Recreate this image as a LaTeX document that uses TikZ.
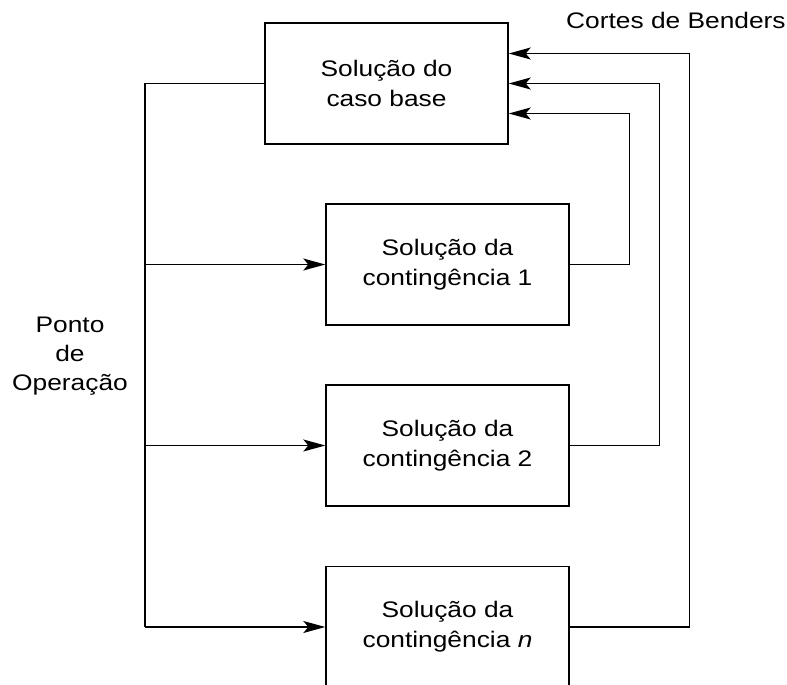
\documentclass[tikz,border=0pt]{standalone}
\usepackage{fontspec}
\setmainfont{Liberation Sans}[FakeStretch=1.17]
\usetikzlibrary{arrows.meta,calc}
\begin{document}
\begin{tikzpicture}[x=1pt,y=-1pt,
  box/.style={draw,line width=1.4pt,minimum width=243pt,minimum height=121pt,inner sep=0pt,align=center,font=\fontsize{22.5}{30}\selectfont},
  conn/.style={line width=1.4pt},
  arr/.style={line width=1.4pt,-{Stealth[length=22pt,width=12pt,inset=5pt]}},
  lbl/.style={font=\fontsize{22.5}{29}\selectfont,align=center,inner sep=0pt}]
\useasboundingbox (0,0) rectangle (787,685);
\node[box] (b1) at (386.5,83.5) {Solução do\\caso base};
\node[box] (b2) at (447.5,264.5) {Solução da\\contingência 1};
\node[box] (b3) at (447.5,445.5) {Solução da\\contingência 2};
\node[box] (b4) at (447.5,627) {Solução da\\contingência \textit{n}};
\coordinate (L) at (145,83.5);
\draw[conn] (b1.west) -- (L) -- (L |- b4.west);
\draw[arr] (L |- b2.west) -- (b2.west);
\draw[arr] (L |- b3.west) -- (b3.west);
\draw[arr] (L |- b4.west) -- (b4.west);
\draw[arr] (b2.east) -- ++(60,0) |- ([yshift=-30pt]b1.east);
\draw[arr] (b3.east) -- ++(90,0) |- (b1.east);
\draw[arr] (b4.east) -- ++(120,0) |- ([yshift=30pt]b1.east);
\node[lbl,anchor=base west] (cb) at (566,29) {Cortes de Benders};
\node[lbl] (po) at (70,356) {Ponto\\de\\Operação};
\end{tikzpicture}
\end{document}
